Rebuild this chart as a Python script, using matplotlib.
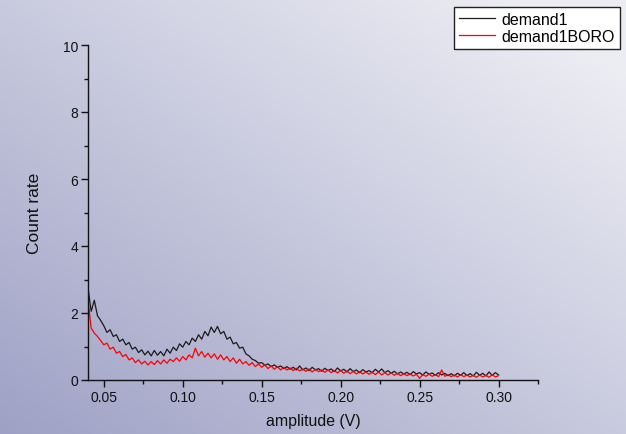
import matplotlib
matplotlib.use("Agg")
import matplotlib.pyplot as plt
import numpy as np

plt.rcParams['font.family'] = ['Liberation Sans', 'DejaVu Sans']

# amplitude grid: 0.040 .. 0.300 in 0.002 steps
amplitude = np.linspace(0.04, 0.30, 131)

demand1 = [
    2.75, 2.05, 2.38, 1.92, 1.78, 1.62, 1.42, 1.50, 1.30, 1.35,
    1.15, 1.22, 1.05, 1.12, 0.92, 0.98, 0.82, 0.90, 0.75, 0.86,
    0.72, 0.88, 0.74, 0.85, 0.72, 0.92, 0.80, 0.98, 0.88, 1.08,
    0.98, 1.15, 1.05, 1.25, 1.15, 1.35, 1.22, 1.45, 1.32, 1.58,
    1.42, 1.60, 1.38, 1.45, 1.22, 1.28, 1.08, 1.12, 0.95, 0.98,
    0.78, 0.72, 0.62, 0.58, 0.50, 0.52, 0.44, 0.48, 0.40, 0.45,
    0.38, 0.42, 0.34, 0.40, 0.32, 0.38, 0.30, 0.42, 0.30, 0.36,
    0.28, 0.38, 0.30, 0.34, 0.26, 0.35, 0.28, 0.33, 0.25, 0.36,
    0.27, 0.32, 0.24, 0.34, 0.25, 0.30, 0.22, 0.31, 0.24, 0.28,
    0.22, 0.32, 0.24, 0.33, 0.22, 0.28, 0.20, 0.26, 0.18, 0.24,
    0.18, 0.23, 0.16, 0.25, 0.18, 0.22, 0.15, 0.24, 0.17, 0.21,
    0.14, 0.22, 0.15, 0.20, 0.13, 0.19, 0.12, 0.20, 0.14, 0.22,
    0.13, 0.19, 0.12, 0.23, 0.14, 0.20, 0.12, 0.24, 0.14, 0.22,
    0.15,
]

demand1_boro = [
    2.40, 1.55, 1.40, 1.30, 1.18, 1.05, 1.10, 0.92, 0.98, 0.80,
    0.85, 0.70, 0.76, 0.60, 0.66, 0.52, 0.60, 0.48, 0.56, 0.45,
    0.55, 0.46, 0.58, 0.48, 0.60, 0.50, 0.62, 0.55, 0.66, 0.56,
    0.70, 0.60, 0.75, 0.66, 0.95, 0.72, 0.85, 0.68, 0.80, 0.66,
    0.78, 0.62, 0.75, 0.60, 0.70, 0.55, 0.66, 0.50, 0.62, 0.48,
    0.55, 0.44, 0.52, 0.40, 0.48, 0.38, 0.45, 0.34, 0.42, 0.32,
    0.40, 0.30, 0.38, 0.30, 0.36, 0.28, 0.35, 0.27, 0.33, 0.26,
    0.33, 0.24, 0.32, 0.25, 0.30, 0.23, 0.30, 0.22, 0.28, 0.21,
    0.29, 0.20, 0.27, 0.19, 0.26, 0.18, 0.25, 0.18, 0.24, 0.17,
    0.23, 0.16, 0.24, 0.15, 0.22, 0.15, 0.21, 0.14, 0.20, 0.13,
    0.19, 0.13, 0.18, 0.12, 0.17, 0.05, 0.16, 0.11, 0.17, 0.11,
    0.16, 0.10, 0.30, 0.11, 0.16, 0.10, 0.15, 0.09, 0.16, 0.10,
    0.15, 0.09, 0.14, 0.08, 0.15, 0.09, 0.14, 0.08, 0.16, 0.09,
    0.13,
]

fig = plt.figure(figsize=(6.26, 4.35), dpi=100)

# diagonal gradient background (dark blue-grey bottom left -> light top right)
bg = fig.add_axes([0, 0, 1, 1], zorder=-10)
gx, gy = np.meshgrid(np.linspace(0, 1, 200), np.linspace(1, 0, 200))
t = np.clip(0.55 * gx + 0.55 * gy, 0, 1)[..., None]
dark = np.array([158, 161, 197]) / 255
light = np.array([236, 236, 243]) / 255
bg.imshow(dark + (light - dark) * t, aspect='auto', extent=[0, 1, 0, 1])
bg.axis('off')

ax = fig.add_axes([88 / 626, 1 - 381 / 435, 450 / 626, 335 / 435])
ax.patch.set_alpha(0)

ax.plot(amplitude, demand1, color='#1a1a1a', lw=0.9, label='demand1')
ax.plot(amplitude, demand1_boro, color='#ff0000', lw=0.9, label='demand1BORO')

ax.set_xlim(0.04, 0.325)
ax.set_ylim(0, 10)
ax.set_xticks([0.05, 0.10, 0.15, 0.20, 0.25, 0.30])
ax.set_xticks(np.arange(0.075, 0.33, 0.05), minor=True)
ax.set_yticks([0, 2, 4, 6, 8, 10])
ax.set_yticks([1, 3, 5, 7, 9], minor=True)
ax.xaxis.set_major_formatter(matplotlib.ticker.FormatStrFormatter('%.2f'))

for s in ['top', 'right']:
    ax.spines[s].set_visible(False)
for s in ['left', 'bottom']:
    ax.spines[s].set_linewidth(1.0)
    ax.spines[s].set_color('#111111')

ax.tick_params(which='major', direction='out', length=5, width=1,
               labelsize=10, pad=2, colors='#111111')
ax.tick_params(which='minor', direction='out', length=3, width=1,
               colors='#111111')

ax.set_xlabel('amplitude (V)', fontsize=11.4, labelpad=7, color='#111111')
ax.set_ylabel('Count rate', fontsize=12.5, labelpad=15, color='#111111')

leg = fig.legend(loc='upper right', bbox_to_anchor=(620 / 626, 1 - 8 / 435),
                 fontsize=11.5, frameon=True, fancybox=False, handlelength=2.3,
                 handletextpad=0.4, borderpad=0.3, labelspacing=0.12,
                 borderaxespad=0)
leg.get_frame().set_edgecolor('#222222')
leg.get_frame().set_facecolor('white')
leg.get_frame().set_alpha(1)
leg.get_frame().set_linewidth(1.0)

fig.savefig('out.png', dpi=100)
